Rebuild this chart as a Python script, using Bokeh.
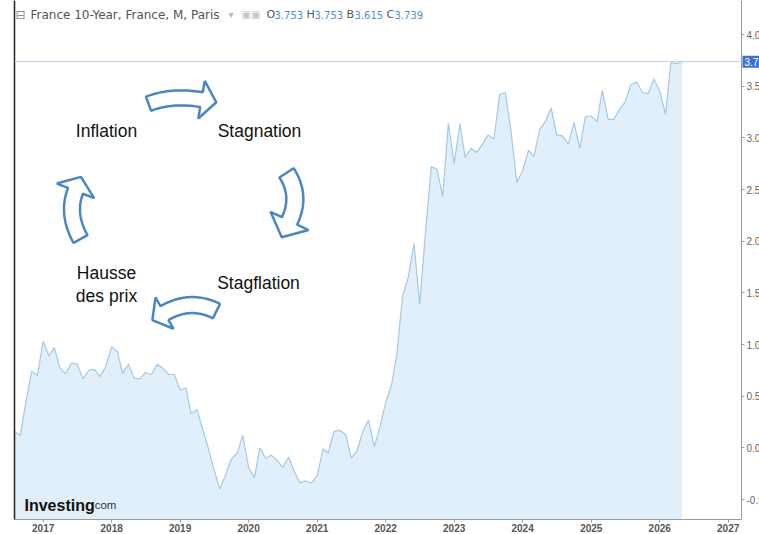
import numpy as np
import pandas as pd
from bokeh.plotting import figure
from bokeh.models import (Range1d, LinearAxis, FixedTicker, DatetimeTickFormatter,
                          Label, Span, ColumnDataSource, NumeralTickFormatter,
                          SingleIntervalTicker)
from bokeh.embed import file_html
from bokeh.resources import INLINE

# ---------------- data (monthly closes, France 10-Year, Aug 2016 -> May 2026) ----------------
first_month = "2016-08-01"
yields = [
    0.16, 0.12, 0.45, 0.74, 0.70,                                      # 2016 Aug-Dec
    1.03, 0.89, 0.97, 0.77, 0.72, 0.82, 0.81, 0.67, 0.75, 0.76, 0.69, 0.79,  # 2017
    0.98, 0.93, 0.72, 0.81, 0.67, 0.67, 0.73, 0.71, 0.81, 0.77, 0.71, 0.71,  # 2018
    0.56, 0.58, 0.33, 0.37, 0.18, -0.01, -0.21, -0.40, -0.26, -0.11, -0.05, 0.12,  # 2019
    -0.19, -0.29, 0.00, -0.10, -0.07, -0.12, -0.19, -0.09, -0.23, -0.34, -0.32, -0.34,  # 2020
    -0.27, -0.01, -0.05, 0.16, 0.17, 0.13, -0.10, -0.03, 0.16, 0.27, 0.01, 0.20,  # 2021
    0.44, 0.61, 0.90, 1.47, 1.65, 1.98, 1.39, 2.08, 2.72, 2.70, 2.43, 3.14,  # 2022
    2.75, 3.14, 2.81, 2.90, 2.86, 2.94, 3.03, 2.99, 3.42, 3.44, 3.05, 2.57,  # 2023
    2.68, 2.88, 2.82, 3.08, 3.16, 3.29, 3.03, 3.02, 2.94, 3.15, 2.90, 3.21,  # 2024
    3.21, 3.16, 3.46, 3.18, 3.18, 3.28, 3.35, 3.52, 3.54, 3.44, 3.43, 3.57,  # 2025
    3.45, 3.23, 3.73, 3.72, 3.739,                                     # 2026 Jan-May
]
tick_years = [2017, 2018, 2019, 2020, 2021, 2022, 2023, 2024, 2025, 2026, 2027]
header_name = "France 10-Year, France, M, Paris"
ohlc_keys = ["O", "H", "B", "C"]
ohlc_vals = ["3.753", "3.753", "3.615", "3.739"]
cycle_words = ["Inflation", "Stagnation", "Stagflation", "Hausse", "des prix"]

dates = pd.date_range(first_month, periods=len(yields), freq="MS")

# ---------------- geometry of the frame (pixels) ----------------
W, H = 759, 534
F_L, F_R, F_T, F_B = 14, 759, 0, 518
AXIS_PX = 741  # where the price axis sits

def ms(d):
    return pd.Timestamp(d).value / 1e6

# reference scale: Jan 2017 at px 42.7, Jan 2027 at px 727.7
px_2017, px_2027 = 42.7, 727.7
ms_per_px = (ms("2027-01-01") - ms("2017-01-01")) / (px_2027 - px_2017)
x_lo = ms("2017-01-01") - (px_2017 - F_L) * ms_per_px
x_hi = ms("2017-01-01") + (F_R - px_2017) * ms_per_px
# y: 0.0 at px 446.5, 103.1 px per unit
y_zero_px, px_per_unit = 446.5, 103.1
y_hi = (y_zero_px - F_T) / px_per_unit
y_lo = (y_zero_px - F_B) / px_per_unit

def px2x(px):
    return x_lo + (px - F_L) / (F_R - F_L) * (x_hi - x_lo)

def px2y(py):
    return y_hi - (py - F_T) / (F_B - F_T) * (y_hi - y_lo)

x_axis_at = px2x(AXIS_PX)

p = figure(width=W, height=H, x_axis_type="datetime", y_axis_location=None,
           x_range=Range1d(x_lo, x_hi), y_range=Range1d(y_lo, y_hi),
           output_backend="svg", toolbar_location=None,
           min_border_left=F_L, min_border_top=0, min_border_right=0, min_border_bottom=0)
p.outline_line_color = None
p.grid.visible = False
p.background_fill_color = "white"
p.border_fill_color = "white"

# left black border as an axis with no ticks
left_ax = LinearAxis(ticker=FixedTicker(ticks=[]), axis_line_color="#222222", axis_line_width=1.5,
                     major_tick_line_color=None, minor_tick_line_color=None,
                     major_label_text_font_size="0px", major_tick_out=0, major_tick_in=0,
                     major_label_standoff=0)
p.add_layout(left_ax, "left")

# price axis on the right, pinned at its place inside the frame
ra = LinearAxis(fixed_location=x_axis_at,
                ticker=SingleIntervalTicker(interval=0.5, num_minor_ticks=0),
                formatter=NumeralTickFormatter(format="0.0"),
                major_label_text_font="Liberation Sans", major_label_text_font_size="10px",
                major_label_text_color="#666666", axis_line_color="#9a9a9a",
                major_tick_line_color="#9a9a9a", major_tick_in=0, major_tick_out=3,
                minor_tick_line_color=None, major_label_standoff=2)
p.add_layout(ra, "right")

# x axis
xa = p.xaxis[0]
xa.ticker = FixedTicker(ticks=[ms(f"{y}-01-01") for y in tick_years])
xa.formatter = DatetimeTickFormatter(years="%Y", months="%Y", days="%Y", hours="%Y",
                                     hourmin="%Y", minutes="%Y", minsec="%Y", seconds="%Y",
                                     milliseconds="%Y", microseconds="%Y")
xa.bounds = (x_lo, x_axis_at)
xa.major_label_text_font = "Liberation Sans"
xa.major_label_text_font_size = "10px"
xa.major_label_text_font_style = "bold"
xa.major_label_text_color = "#555555"
xa.axis_line_color = "#9a9a9a"
xa.major_tick_line_color = "#9a9a9a"
xa.major_tick_in = 0
xa.major_tick_out = 3
xa.minor_tick_line_color = None
xa.major_label_standoff = 1

src = ColumnDataSource(dict(date=dates, yld=yields))
p.varea(x="date", y1=y_lo - 1, y2="yld", source=src, fill_color="#e1effa", fill_alpha=1.0)
p.line(x="date", y="yld", source=src, line_color="#a6c8e6", line_width=1.2)

# last value line and tag
p.add_layout(Span(location=yields[-1], dimension="width", line_color="#c6cdec", line_width=1))
p.add_layout(Label(x=px2x(742), y=yields[-1], text=f"{yields[-1]:.3f}", text_color="white",
                   text_font="Liberation Sans", text_font_size="10px", text_baseline="middle",
                   background_fill_color="#3f6fd9", padding=2))

# header
hy = px2y(14)
p.add_layout(Label(x=px2x(15), y=hy, text="\u229f", text_color="#8a8a8a", text_font="DejaVu Sans",
                   text_font_size="12px", text_baseline="middle"))
p.add_layout(Label(x=px2x(30), y=hy, text=header_name, text_color="#555555", text_font="DejaVu Sans",
                   text_font_size="12px", text_baseline="middle"))
p.add_layout(Label(x=px2x(228), y=hy, text="\u25be", text_color="#bbbbbb", text_font="DejaVu Sans",
                   text_font_size="10px", text_baseline="middle"))
p.add_layout(Label(x=px2x(241), y=hy, text="\u25a3\u25a3", text_color="#c4c4c4", text_font="DejaVu Sans",
                   text_font_size="10px", text_baseline="middle"))
kx = [266, 306, 346, 386]
for k, v, x0 in zip(ohlc_keys, ohlc_vals, kx):
    p.add_layout(Label(x=px2x(x0), y=hy, text=k, text_color="#555555", text_font="DejaVu Sans",
                       text_font_size="11px", text_baseline="middle"))
    p.add_layout(Label(x=px2x(x0 + 8), y=hy, text=v, text_color="#4f8fd0", text_font="DejaVu Sans",
                       text_font_size="10px", text_baseline="middle"))

# cycle words
word_pos = [(106, 130), (259, 130), (258, 282), (106, 272), (106, 295)]
for wtxt, (cx, cy) in zip(cycle_words, word_pos):
    p.add_layout(Label(x=px2x(cx), y=px2y(cy), text=wtxt, text_color="#111111",
                       text_font="Liberation Sans", text_font_size="17.5px",
                       text_align="center", text_baseline="middle"))

# curved block arrows
def arrow_poly(p0, p1, p2, w, hw, hl, n=24):
    p0, p1, p2 = map(np.array, (p0, p1, p2))
    t = np.linspace(0, 1, n)[:, None]
    pts = (1 - t) ** 2 * p0 + 2 * (1 - t) * t * p1 + t ** 2 * p2
    tan = 2 * (1 - t) * (p1 - p0) + 2 * t * (p2 - p1)
    tan = tan / np.linalg.norm(tan, axis=1)[:, None]
    nor = np.stack([-tan[:, 1], tan[:, 0]], axis=1)
    left = pts + nor * w / 2
    right = pts - nor * w / 2
    d, nn = tan[-1], nor[-1]
    head = [p2 + nn * hw / 2, p2 + d * hl, p2 - nn * hw / 2]
    poly = list(left) + head + list(right[::-1])
    xs = [px2x(q[0]) for q in poly]
    ys = [px2y(q[1]) for q in poly]
    return xs, ys

arrows = [
    ((148, 103), (172, 94), (201, 99), 15, 38, 15),
    ((286, 172), (301, 195), (289, 220), 17, 42, 18),
    ((216, 310), (190, 297), (164, 312), 16, 36, 14),
    ((80, 238), (66, 213), (75, 190), 16, 40, 15),
]
for a in arrows:
    xs, ys = arrow_poly(*a)
    p.patch(xs, ys, fill_color="white", line_color="#4a86c4", line_width=2.5)

# logo
p.add_layout(Label(x=px2x(24), y=px2y(504), text="Investing", text_color="#111111",
                   text_font="Liberation Sans", text_font_size="16px", text_font_style="bold",
                   text_baseline="alphabetic"))
p.add_layout(Label(x=px2x(91), y=px2y(504), text=".com", text_color="#333333",
                   text_font="Liberation Sans", text_font_size="11.5px",
                   text_baseline="alphabetic"))

open("out.html", "w").write(file_html(p, INLINE))
